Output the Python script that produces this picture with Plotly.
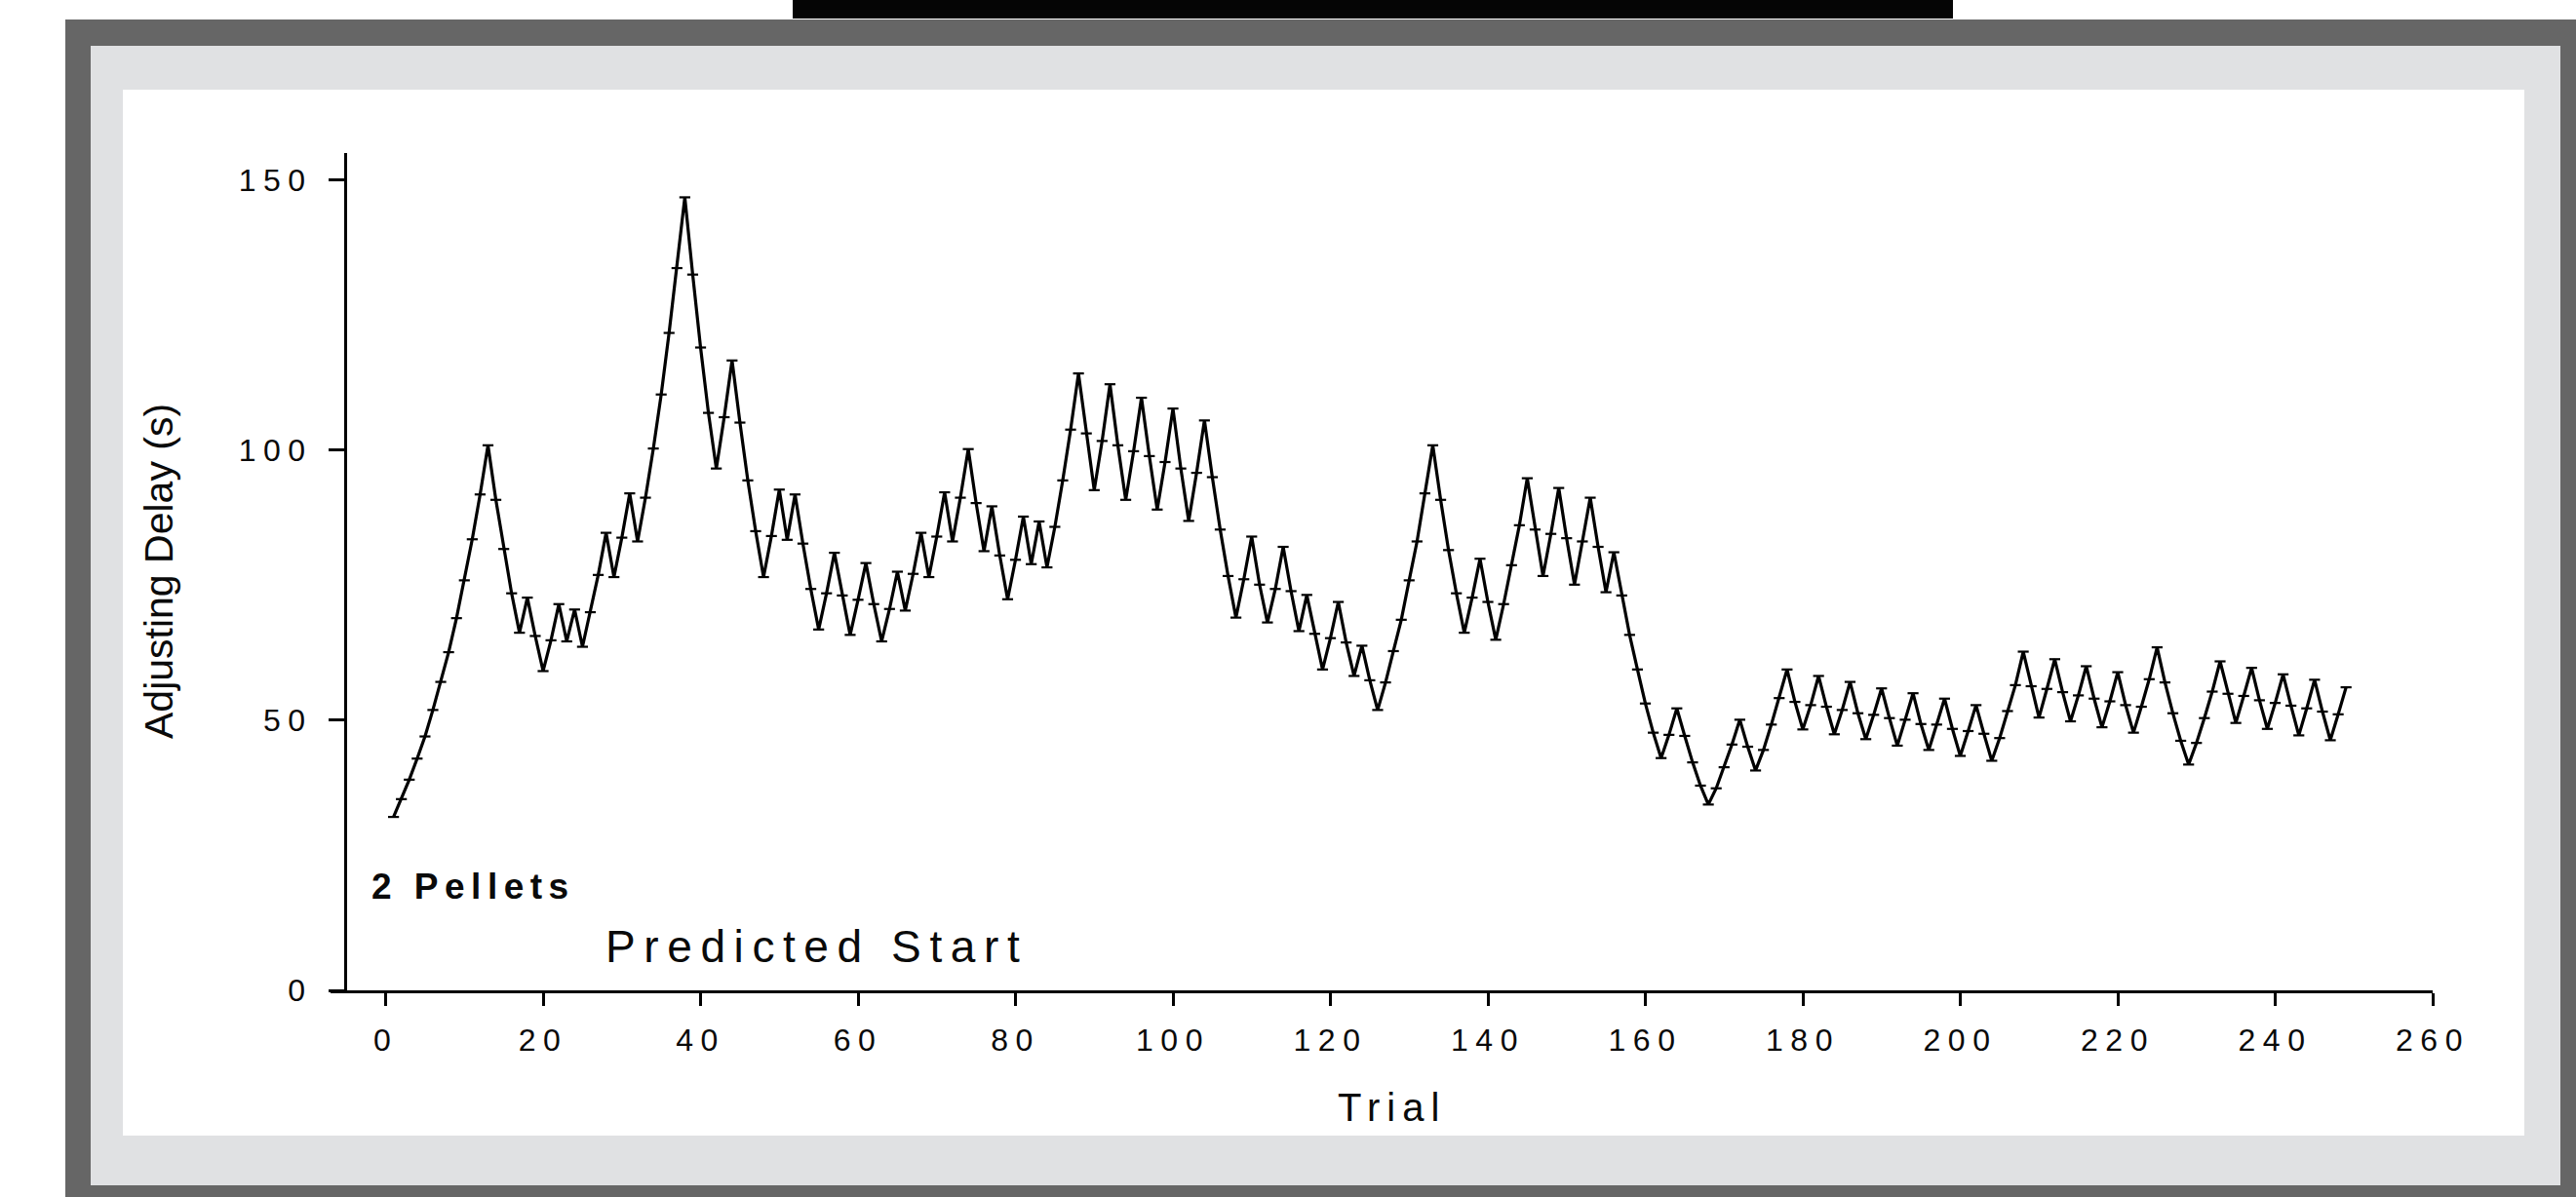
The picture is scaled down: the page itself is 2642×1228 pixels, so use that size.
import plotly.graph_objects as go

# ---------------- data ----------------
trials = list(range(1, 250))
delay = [
    32.1, 35.4, 39.0, 42.9, 47.0, 51.9, 57.1, 62.6, 68.9, 75.9,
    83.5, 91.8, 100.9, 90.8, 81.7, 73.5, 66.2, 72.7, 65.6, 59.1,
    64.8, 71.5, 64.6, 70.5, 63.6, 70.0, 76.9, 84.7, 76.5, 83.8,
    92.0, 83.1, 91.2, 100.3, 110.3, 121.7, 133.7, 146.8,
    132.5, 119.0, 106.9, 96.6, 106.1, 116.6, 105.1, 94.4, 85.0, 76.5,
    84.1, 92.7, 83.4, 91.8, 82.7, 74.3, 66.8, 73.5, 81.0, 73.1,
    65.8, 72.3, 79.1, 71.5, 64.6, 70.6, 77.5, 70.3, 77.1, 84.7,
    76.5, 84.0, 92.2, 83.1, 91.2, 100.2, 90.2, 81.3, 89.6, 80.5, 72.4,
    79.7, 87.7, 78.9, 86.8, 78.3, 85.8, 94.4, 103.8, 114.2, 103.1,
    92.6, 101.7, 112.2, 100.9, 90.8, 99.8, 109.7, 98.9, 89.0, 97.8,
    107.7, 96.6, 86.9, 95.8, 105.5, 95.0, 85.3, 76.7, 69.0, 76.1,
    84.0, 75.1, 68.1, 74.3, 82.1, 73.9, 66.5, 73.2, 66.0, 59.4, 65.2, 71.9,
    64.4, 58.2, 63.8, 57.4, 51.9, 57.0, 62.8, 68.6, 75.9, 83.1,
    92.0, 100.9, 90.8, 81.5, 73.5, 66.2, 72.7, 79.9, 71.9, 64.9,
    71.5, 78.7, 86.1, 94.8, 85.3, 76.7, 84.5, 93.0, 83.7, 75.1,
    83.1, 91.2, 82.1, 73.7, 81.1, 73.1, 65.8, 59.4, 53.1, 47.7,
    43.0, 47.3, 52.2,
    47.1, 42.2, 37.9, 34.4, 37.4, 41.3, 45.5, 50.1, 45.1, 40.7,
    44.5, 49.2, 54.1, 59.4, 53.4, 48.3, 52.8, 58.2, 52.5, 47.4,
    51.9, 57.1, 51.3, 46.5, 51.0, 55.9, 50.4, 45.3, 50.1, 55.0,
    49.3, 44.5, 49.2, 54.0, 48.4, 43.4, 48.0, 52.8, 47.5, 42.5,
    46.7, 51.7,
    56.5, 62.7, 56.3, 50.5, 55.8, 61.3, 55.2, 49.8, 54.6, 60.0,
    54.0, 48.7, 53.5, 58.9, 52.8, 47.7, 52.5, 57.6, 63.5, 57.0,
    51.3, 46.2, 41.8, 45.8, 50.4, 55.3, 60.9, 54.9, 49.5, 54.5,
    59.7, 53.7, 48.4, 53.2, 58.5, 52.7, 47.2, 52.2, 57.5, 51.6,
    46.3, 51.1, 56.1,
]
x_tick_vals = [0, 20, 40, 60, 80, 100, 120, 140, 160, 180, 200, 220, 240, 260]
x_tick_text = ["0", "20", "40", "60", "80", "100", "120", "140", "160", "180", "200", "220", "240", "260"]
y_tick_vals = [0, 50, 100, 150]
y_tick_text = ["0", "50", "100", "150"]

x_title = "Trial"
y_title = "Adjusting Delay (s)"
label_bold = "2 Pellets"
label_note = "Predicted Start"

# ---------------- layout geometry (pixels) ----------------
W, H = 2642, 1228
L, R, T, B = 339, 147, 157, 212
PW = W - L - R
PH = H - T - B
FONT = "Liberation Sans, Arial, Helvetica, sans-serif"
INK = "#0a0a0a"


def px(x):
    return (x - L) / PW


def py(y):
    return (H - B - y) / PH


def rect(x0, y0, x1, y1, color):
    return dict(type="rect", xref="paper", yref="paper",
                x0=px(x0), x1=px(x1), y0=py(y1), y1=py(y0),
                fillcolor=color, line=dict(width=0), layer="below")


shapes = [
    rect(813, 0, 2003, 19, "#050505"),
    rect(67, 20, W + 2, H + 2, "#666666"),
    rect(93, 47, 2626, 1216, "#e0e1e3"),
    rect(126, 92, 2589, 1165, "#ffffff"),
]

fig = go.Figure()
fig.add_trace(go.Scatter(
    x=trials, y=delay, mode="lines+markers",
    line=dict(color="black", width=3.2),
    marker=dict(symbol="line-ew-open", size=8, color="black",
                line=dict(color="black", width=2.2)),
    showlegend=False, hoverinfo="skip",
))

annotations = [
    dict(text=y_title, x=px(163), y=py(586), xref="paper", yref="paper",
         textangle=-90, showarrow=False, xanchor="center", yanchor="middle",
         font=dict(family=FONT, size=41, color=INK)),
    dict(text=x_title, x=px(1370), y=py(1136), xref="paper", yref="paper",
         showarrow=False, xanchor="left", yanchor="middle", align="left",
         font=dict(family=FONT, size=40, color=INK)),
    dict(text=label_bold, x=px(379), y=py(909), xref="paper", yref="paper",
         showarrow=False, xanchor="left", yanchor="middle", align="left",
         font=dict(family=FONT, size=37, color=INK, weight="bold")),
    dict(text=label_note, x=px(619), y=py(971), xref="paper", yref="paper",
         showarrow=False, xanchor="left", yanchor="middle", align="left",
         font=dict(family=FONT, size=46, color=INK)),
]

fig.update_layout(
    width=W, height=H,
    margin=dict(l=L, r=R, t=T, b=B, pad=0),
    paper_bgcolor="white", plot_bgcolor="rgba(0,0,0,0)",
    shapes=shapes, annotations=annotations,
    font=dict(family=FONT, color=INK),
    showlegend=False, hovermode=False,
    xaxis=dict(range=[-7, 260], domain=[0, 1], showline=True, linecolor="black",
               linewidth=3, ticks="outside", ticklen=13, tickwidth=3,
               tickcolor="black", tickvals=x_tick_vals, ticktext=x_tick_text,
               tickfont=dict(family=FONT, size=32, color=INK),
               ticklabelstandoff=8, showgrid=False, zeroline=False,
               fixedrange=True),
    yaxis=dict(range=[0, 155], domain=[0, 1], anchor="free", position=px(354),
               showline=True, linecolor="black", linewidth=3, ticks="outside",
               ticklen=16, tickwidth=3, tickcolor="black",
               tickvals=y_tick_vals, ticktext=y_tick_text,
               tickfont=dict(family=FONT, size=32, color=INK),
               ticklabelstandoff=10, showgrid=False, zeroline=False,
               fixedrange=True),
)

post = """
document.body.style.margin='0';
document.body.style.overflow='hidden';
var gd = document.getElementById('{plot_id}');
gd.querySelectorAll('.xtick text, .ytick text').forEach(function(t){t.style.letterSpacing='7.5px';});
var sp = ['0px','7px','6.5px','8.6px'];
gd.querySelectorAll('.annotation-text').forEach(function(t,i){ if(i<sp.length){t.style.letterSpacing=sp[i];} });
"""

fig.write_html("out.html", config={"displayModeBar": False, "staticPlot": True},
               post_script=post)
